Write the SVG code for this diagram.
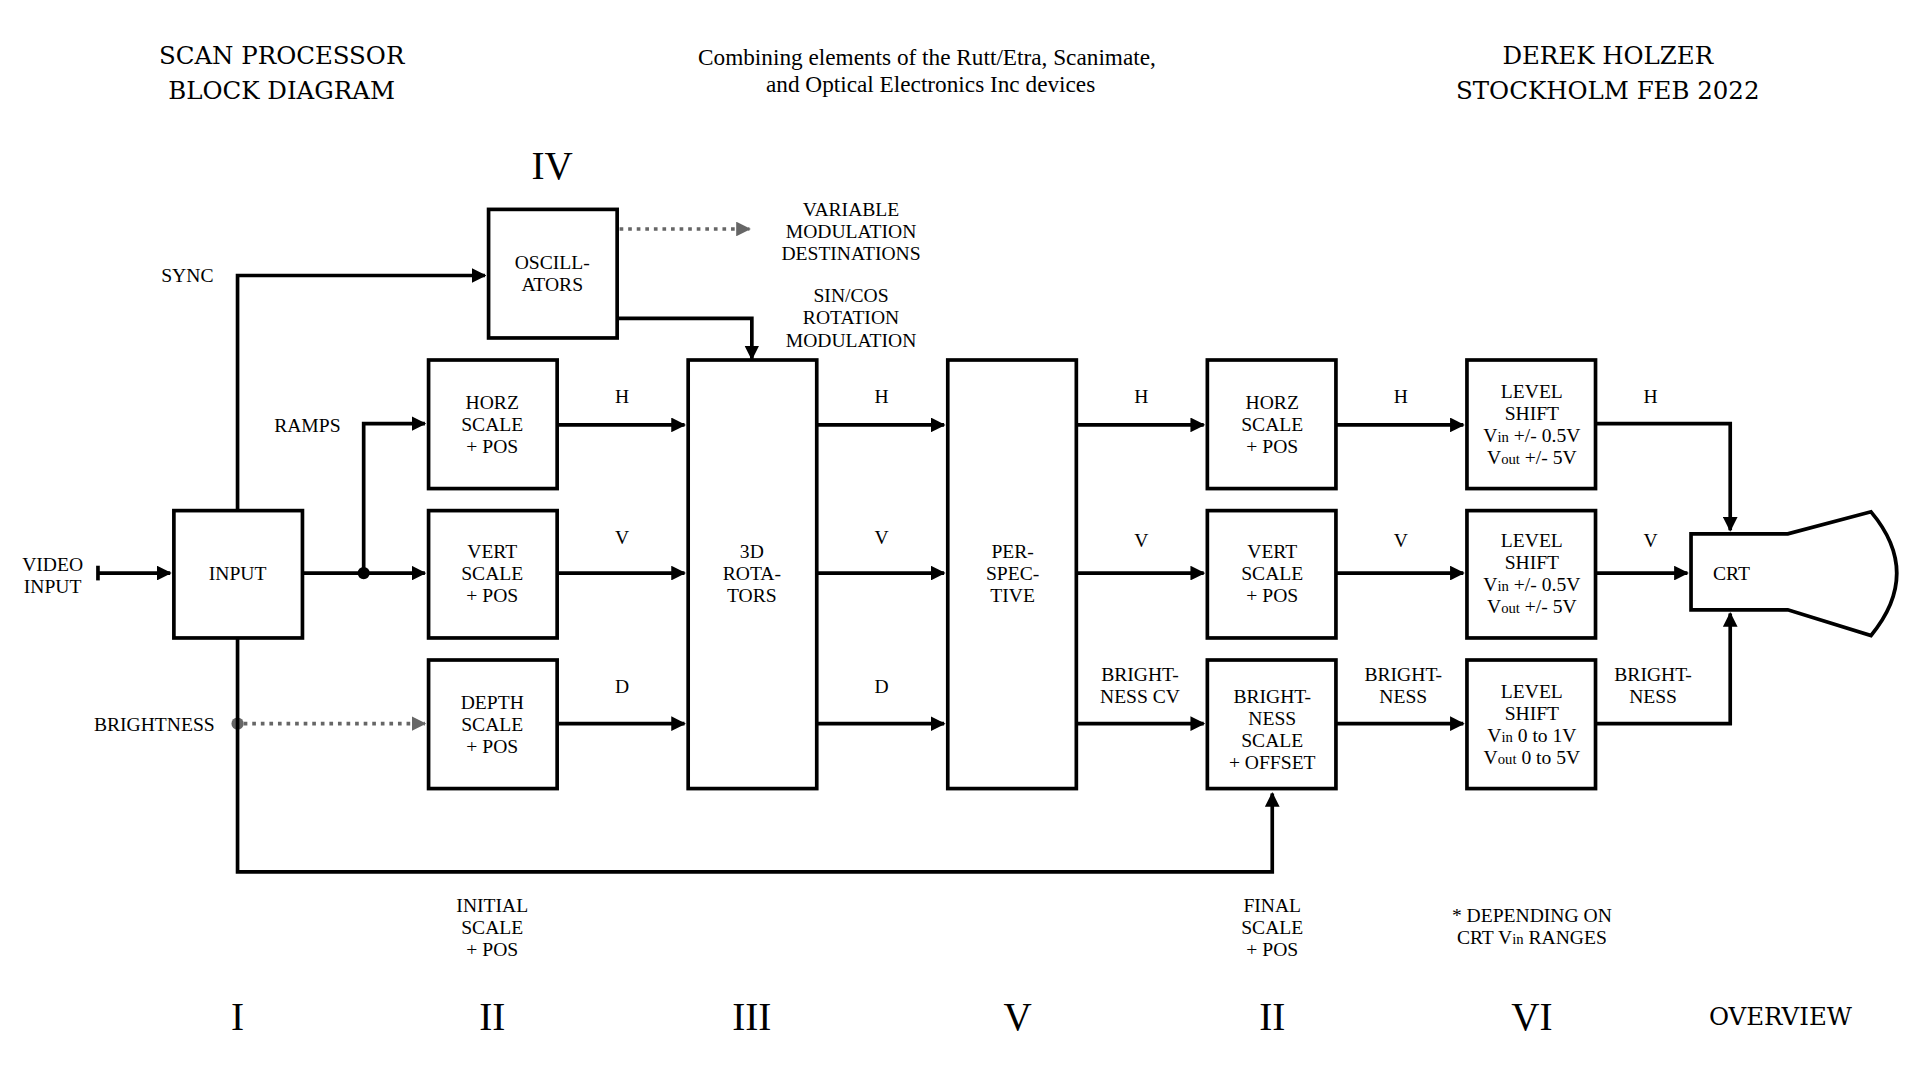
<svg xmlns="http://www.w3.org/2000/svg" width="1920" height="1080" viewBox="0 0 1920 1080">
<defs>
<marker id="a" viewBox="0 0 10 10" refX="9" refY="5" markerWidth="4" markerHeight="4" orient="auto"><path d="M0,0L10,5L0,10z" fill="#000"/></marker>
<marker id="g" viewBox="0 0 10 10" refX="9" refY="5" markerWidth="4" markerHeight="4" orient="auto"><path d="M0,0L10,5L0,10z" fill="#666"/></marker>
<style>
text{font-family:"Liberation Serif","DejaVu Serif",serif;text-anchor:middle;fill:#000}
.b{fill:#fff;stroke:#000;stroke-width:3}
.c{fill:none;stroke:#000;stroke-width:3;marker-end:url(#a)}
.d{fill:none;stroke:#666;stroke-width:3;stroke-dasharray:3 4;marker-end:url(#g)}
.s{font-size:16px}
.t{font-size:20px;font-family:"DejaVu Serif","Liberation Serif",serif}
.r{font-size:32px}
.sub{font-size:12px}
</style>
</defs>
<rect width="1920" height="1080" fill="#fff"/>
<g transform="scale(1.2245)">
<g id="titles">
<text class="t" x="230" y="52">SCAN PROCESSOR</text>
<text class="t" x="230" y="81">BLOCK DIAGRAM</text>
<text style="font-size:19px" x="757" y="53">Combining elements of the Rutt/Etra, Scanimate,</text>
<text style="font-size:19px" x="760" y="75">and Optical Electronics Inc devices</text>
<text class="t" x="1313" y="52">DEREK HOLZER</text>
<text class="t" x="1313" y="81">STOCKHOLM FEB 2022</text>
<text class="r" x="451" y="146">IV</text>
</g>
<g id="connectors">
<path class="c" d="M80,468H139"/><path d="M80,462V474" stroke="#000" stroke-width="3"/>
<path class="c" d="M247,468H347"/>
<circle cx="297" cy="468" r="5"/>
<path class="c" d="M297,468V346H347"/>
<path class="c" d="M194,417V225H396"/>
<path class="d" d="M506,187H612"/>
<path class="c" d="M504,260H614V293"/>
<path class="c" d="M455,347H559"/><path class="c" d="M455,468H559"/><path class="c" d="M455,591H559"/>
<path class="c" d="M667,347H771"/><path class="c" d="M667,468H771"/><path class="c" d="M667,591H771"/>
<path class="c" d="M879,347H983"/><path class="c" d="M879,468H983"/><path class="c" d="M879,591H983"/>
<path class="c" d="M1091,347H1195"/><path class="c" d="M1091,468H1195"/><path class="c" d="M1091,591H1195"/>
<path class="c" d="M1303,346H1413V433"/>
<path class="c" d="M1303,468H1378"/>
<path class="c" d="M1303,591H1413V501"/>
<circle cx="194" cy="591" r="5" fill="#666"/>
<path class="d" d="M199,591H347"/>
<path class="c" d="M194,521V712H1039V648"/>
</g>
<g id="input"><rect class="b" x="142" y="417" width="105" height="104"/><text class="s" x="194" y="474">INPUT</text></g>
<g id="osc"><rect class="b" x="399" y="171" width="105" height="105"/><text class="s" x="451" y="220">OSCILL-</text><text class="s" x="451" y="238">ATORS</text></g>
<g id="horz1"><rect class="b" x="350" y="294" width="105" height="105"/><text class="s" x="402" y="334">HORZ</text><text class="s" x="402" y="352">SCALE</text><text class="s" x="402" y="370">+ POS</text></g>
<g id="vert1"><rect class="b" x="350" y="417" width="105" height="104"/><text class="s" x="402" y="456">VERT</text><text class="s" x="402" y="474">SCALE</text><text class="s" x="402" y="492">+ POS</text></g>
<g id="depth"><rect class="b" x="350" y="539" width="105" height="105"/><text class="s" x="402" y="579">DEPTH</text><text class="s" x="402" y="597">SCALE</text><text class="s" x="402" y="615">+ POS</text></g>
<g id="rot"><rect class="b" x="562" y="294" width="105" height="350"/><text class="s" x="614" y="456">3D</text><text class="s" x="614" y="474">ROTA-</text><text class="s" x="614" y="492">TORS</text></g>
<g id="persp"><rect class="b" x="774" y="294" width="105" height="350"/><text class="s" x="827" y="456">PER-</text><text class="s" x="827" y="474">SPEC-</text><text class="s" x="827" y="492">TIVE</text></g>
<g id="horz2"><rect class="b" x="986" y="294" width="105" height="105"/><text class="s" x="1039" y="334">HORZ</text><text class="s" x="1039" y="352">SCALE</text><text class="s" x="1039" y="370">+ POS</text></g>
<g id="vert2"><rect class="b" x="986" y="417" width="105" height="104"/><text class="s" x="1039" y="456">VERT</text><text class="s" x="1039" y="474">SCALE</text><text class="s" x="1039" y="492">+ POS</text></g>
<g id="bright"><rect class="b" x="986" y="539" width="105" height="105"/><text class="s" x="1039" y="574">BRIGHT-</text><text class="s" x="1039" y="592">NESS</text><text class="s" x="1039" y="610">SCALE</text><text class="s" x="1039" y="628">+ OFFSET</text></g>
<g id="ls1"><rect class="b" x="1198" y="294" width="105" height="105"/><text class="s" x="1251" y="325">LEVEL</text><text class="s" x="1251" y="343">SHIFT</text><text class="s" x="1251" y="361">V<tspan class="sub">in</tspan> +/- 0.5V</text><text class="s" x="1251" y="379">V<tspan class="sub">out</tspan> +/- 5V</text></g>
<g id="ls2"><rect class="b" x="1198" y="417" width="105" height="104"/><text class="s" x="1251" y="447">LEVEL</text><text class="s" x="1251" y="465">SHIFT</text><text class="s" x="1251" y="483">V<tspan class="sub">in</tspan> +/- 0.5V</text><text class="s" x="1251" y="501">V<tspan class="sub">out</tspan> +/- 5V</text></g>
<g id="ls3"><rect class="b" x="1198" y="539" width="105" height="105"/><text class="s" x="1251" y="570">LEVEL</text><text class="s" x="1251" y="588">SHIFT</text><text class="s" x="1251" y="606">V<tspan class="sub">in</tspan> 0 to 1V</text><text class="s" x="1251" y="624">V<tspan class="sub">out</tspan> 0 to  5V</text></g>
<g id="crt"><path class="b" d="M1381,436H1460L1528,418Q1570,468 1528,519L1460,498H1381Z"/><text class="s" x="1414" y="474">CRT</text></g>
<g id="labels" class="s">
<text class="s" x="43" y="466">VIDEO</text><text class="s" x="43" y="484">INPUT</text>
<text class="s" x="153" y="230">SYNC</text>
<text class="s" x="251" y="353">RAMPS</text>
<text class="s" x="126" y="597">BRIGHTNESS</text>
<text class="s" x="695" y="176">VARIABLE</text><text class="s" x="695" y="194">MODULATION</text><text class="s" x="695" y="212">DESTINATIONS</text>
<text class="s" x="695" y="247">SIN/COS</text><text class="s" x="695" y="265">ROTATION</text><text class="s" x="695" y="283">MODULATION</text>
<text class="s" x="508" y="329">H</text><text class="s" x="508" y="444">V</text><text class="s" x="508" y="566">D</text>
<text class="s" x="720" y="329">H</text><text class="s" x="720" y="444">V</text><text class="s" x="720" y="566">D</text>
<text class="s" x="932" y="329">H</text><text class="s" x="932" y="447">V</text><text class="s" x="931" y="556">BRIGHT-</text><text class="s" x="931" y="574">NESS CV</text>
<text class="s" x="1144" y="329">H</text><text class="s" x="1144" y="447">V</text><text class="s" x="1146" y="556">BRIGHT-</text><text class="s" x="1146" y="574">NESS</text>
<text class="s" x="1348" y="329">H</text><text class="s" x="1348" y="447">V</text><text class="s" x="1350" y="556">BRIGHT-</text><text class="s" x="1350" y="574">NESS</text>
<text class="s" x="402" y="745">INITIAL</text><text class="s" x="402" y="763">SCALE</text><text class="s" x="402" y="781">+ POS</text>
<text class="s" x="1039" y="745">FINAL</text><text class="s" x="1039" y="763">SCALE</text><text class="s" x="1039" y="781">+ POS</text>
<text class="s" x="1251" y="753">* DEPENDING ON</text><text class="s" x="1251" y="771">CRT V<tspan class="sub">in</tspan> RANGES</text>
<text class="r" x="194" y="841">I</text><text class="r" x="402" y="841">II</text><text class="r" x="614" y="841">III</text><text class="r" x="831" y="841">V</text><text class="r" x="1039" y="841">II</text><text class="r" x="1251" y="841">VI</text>
<text class="t" x="1454" y="837">OVERVIEW</text>
</g>
</g>
</svg>
